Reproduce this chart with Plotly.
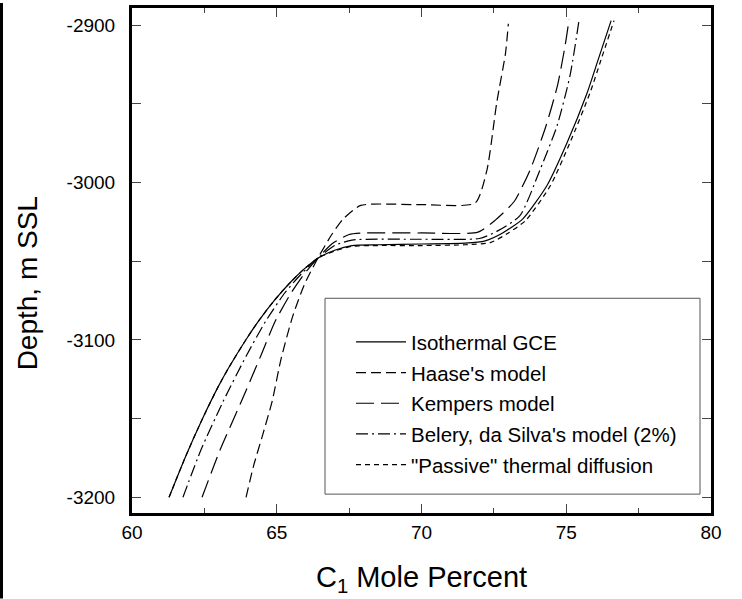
import plotly.graph_objects as go

# ---- data (C1 mole percent vs depth, m SSL) ----
iso_x = [61.28, 61.83, 62.41, 62.97, 63.33, 63.93, 64.37, 64.91, 65.49, 65.94, 66.42, 67.0, 67.6, 68.5, 70.0, 71.5, 72.2, 72.8, 73.5, 74.33, 75.02, 75.72, 76.1, 76.55]
iso_y = [-3200, -3175, -3151, -3130, -3118, -3100, -3088, -3075, -3063, -3055, -3048, -3043, -3040, -3039.5, -3039, -3038.5, -3037, -3032, -3023, -3002, -2975, -2943, -2922, -2897]

haase_x = [63.94, 64.2, 64.52, 64.84, 65.15, 65.55, 65.95, 66.42, 66.9, 67.3, 67.9, 70.0, 71.85, 72.26, 72.6, 72.9, 73.0]
haase_y = [-3200, -3180, -3160, -3139, -3112, -3085, -3065, -3048, -3033, -3023, -3014.5, -3014, -3013, -2992, -2949, -2918, -2899]

kemp_x = [62.42, 63.04, 63.78, 64.45, 64.95, 65.5, 65.95, 66.42, 66.9, 67.5, 68.0, 70.0, 71.95, 72.54, 73.2, 73.75, 74.3, 74.7, 74.96, 75.1]
kemp_y = [-3200, -3170, -3139, -3110, -3088, -3070, -3058, -3048, -3039, -3033, -3032, -3032, -3031.5, -3024, -3012, -2992, -2964, -2938, -2913, -2896]

bel_x = [61.76, 62.38, 63.15, 63.95, 64.62, 65.28, 65.85, 66.42, 67.0, 67.6, 70.0, 72.0, 72.6, 73.4, 74.09, 74.68, 75.13, 75.44]
bel_y = [-3200, -3170, -3139, -3110, -3088, -3070, -3058, -3048, -3040, -3036.5, -3036, -3035.5, -3031, -3021, -2992, -2964, -2932, -2897]

pas_x = [61.28, 61.83, 62.41, 62.97, 63.33, 63.93, 64.37, 64.91, 65.49, 65.94, 66.42, 67.0, 67.6, 68.5, 70.0, 71.5, 72.4, 73.0, 73.6, 74.45, 75.12, 75.82, 76.2, 76.65]
pas_y = [-3200, -3175, -3151, -3130, -3118, -3100, -3088, -3075, -3063, -3055, -3048, -3043.5, -3040.5, -3040, -3040, -3039.5, -3038, -3032, -3024, -3002, -2975, -2943, -2922, -2897]

names = ["Isothermal GCE", "Haase's model", "Kempers model",
         "Belery, da Silva's model (2%)", "\"Passive\" thermal diffusion"]

x_tickvals = [60, 65, 70, 75, 80]
x_ticktext = ["60", "65", "70", "75", "80"]
y_tickvals = [-2900, -3000, -3100, -3200]
y_ticktext = ["-2900", "-3000", "-3100", "-3200"]

series = [
    (iso_x, iso_y, "solid"),
    (haase_x, haase_y, "10px,5px"),
    (kemp_x, kemp_y, "18px,7px"),
    (bel_x, bel_y, "12px,4px,2px,4px"),
    (pas_x, pas_y, "5px,4px"),
]

fig = go.Figure()
for i, ((xs, ys, dash), nm) in enumerate(zip(series, names)):
    fig.add_trace(go.Scatter(
        x=xs, y=ys, mode="lines", name=nm, legendgroup=f"g{i}",
        line=dict(color="black", width=1.2, dash=dash, shape="spline", smoothing=0.6),
    ))

W, H = 742, 599
L, R, T, B = 132, 31, 5, 86
pw, ph = W - L - R, H - T - B

fig.update_layout(
    width=W, height=H,
    margin=dict(l=L, r=R, t=T, b=B),
    paper_bgcolor="white", plot_bgcolor="white",
    font=dict(family="Liberation Sans, Arial, sans-serif", size=19, color="black"),
    showlegend=True,
    legend=dict(
        x=(351 - L) / pw, y=(H - B - 321) / ph, xanchor="left", yanchor="top",
        bgcolor="rgba(0,0,0,0)", borderwidth=0,
        font=dict(size=20.5), tracegroupgap=1, traceorder="grouped",
        itemwidth=50,
    ),
    xaxis=dict(
        range=[60, 80], tickvals=x_tickvals, ticktext=x_ticktext,
        ticks="inside", ticklen=9, tickwidth=1, tickcolor="#444",
        tickfont=dict(size=19),
        minor=dict(dtick=2.5, tick0=60, ticks="inside", ticklen=5, tickwidth=1, tickcolor="#444"),
        showline=True, linewidth=3, linecolor="black", mirror="allticks",
        showgrid=False, zeroline=False,
        title=dict(text="C<sub>1</sub> Mole Percent", font=dict(size=29), standoff=25),
    ),
    yaxis=dict(
        range=[-3210, -2889], tickvals=y_tickvals, ticktext=y_ticktext,
        ticks="inside", ticklen=9, tickwidth=1, tickcolor="#444",
        tickfont=dict(size=19),
        minor=dict(dtick=50, tick0=-3200, ticks="inside", ticklen=9, tickwidth=1, tickcolor="#444"),
        showline=True, linewidth=3, linecolor="black", mirror="allticks",
        showgrid=False, zeroline=False, ticklabelstandoff=10,
    ),
    annotations=[dict(
        text="Depth, m SSL", textangle=-90, showarrow=False,
        xref="paper", yref="paper", x=(27 - L) / pw, y=(H - B - 282) / ph,
        xanchor="center", yanchor="middle", font=dict(size=28),
    )],
)

# legend frame
fig.add_shape(type="rect", xref="paper", yref="paper",
              x0=(325 - L) / pw, x1=(700 - L) / pw,
              y0=(H - B - 494) / ph, y1=(H - B - 297) / ph,
              line=dict(color="#555", width=1), fillcolor="rgba(0,0,0,0)")
# left edge bar of the original figure
fig.add_shape(type="line", xref="paper", yref="paper",
              x0=(1.5 - L) / pw, x1=(1.5 - L) / pw,
              y0=-B / ph, y1=(ph + T) / ph,
              line=dict(color="black", width=3))

fig.write_html("out.html")
